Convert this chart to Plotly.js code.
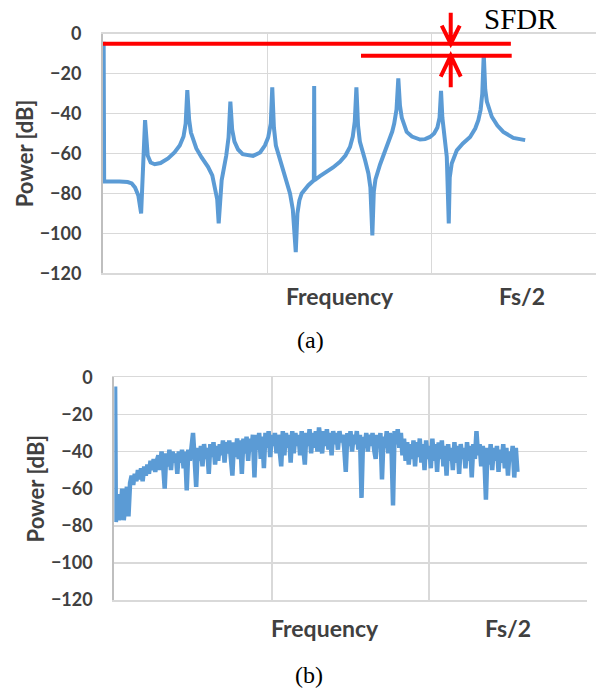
<!DOCTYPE html>
<html>
<head>
<meta charset="utf-8">
<script src="https://cdn.plot.ly/plotly-3.0.1.min.js"></script>
<style>html,body{margin:0;padding:0;background:#fff;}#chart{width:598px;height:688px;}</style>
</head>
<body>
<div id="chart"></div>
<script>
// ---- (a) spectrum with harmonic spurs ----
const topFreq = [0.4,0.7,10,15,17.5,19.5,21.5,23.2,25.6,27.2,29,31.5,35,39.6,43.5,46.7,49,50.3,51.3,52.4,53.5,56.8,60,63.9,66.5,68.3,69.5,70.4,71.2,72.2,75,76.4,77.5,78.6,80,82.2,85,88.3,91.3,95.6,98.5,100.5,102.1,103,104,105.2,108.8,111.5,113.8,115.5,117.3,118.3,119.5,120.9,123,125,128.3,128.5,128.7,132,136.2,140,144.2,147.5,150.3,152,153.2,154.2,155.2,156.3,159.5,161.5,162.7,163.9,164.8,165.8,168.6,171,173.6,176,177.2,178.6,179.7,180.7,181.8,184.8,188,192.9,196,199,201.5,203.5,204.8,205.7,206.5,207.5,209.2,210.4,211,212.2,215.3,219,223.4,226.5,228.4,229.8,230.8,231.7,232.6,233.6,236.6,240,243.6,249.7,256.9];
const topPower = [-4,-74,-74,-74.3,-75,-77,-81,-90,-43.3,-61,-64.5,-65.4,-64.8,-62.5,-59.5,-56,-51.5,-45,-28.2,-43,-49.5,-57.5,-62,-66.7,-71,-77,-83,-95,-83,-73.4,-61,-52,-34,-48,-54,-58,-60.3,-61,-61.2,-59.5,-56,-52,-45,-26.9,-47,-56,-66.5,-73,-80,-88,-109.4,-90,-83.5,-80,-77.5,-75.9,-73.4,-26.2,-73.4,-71.3,-69.2,-67,-64.2,-61,-56.7,-51.5,-44,-26.9,-46,-54,-63.4,-70,-77,-101,-79,-73,-65.5,-60.5,-55,-49,-45,-38,-22.4,-36,-42,-49.2,-51.5,-53,-52.8,-51.7,-50,-47,-42,-28.6,-42,-50,-61.7,-95,-72,-65,-58.4,-55,-51.7,-47.5,-43.3,-38,-30,-10.2,-28,-34,-41.6,-46,-49.2,-52.2,-53.3];

// SFDR markers (a)
const carrierLevel = -5;     // dB
const spurLevel = -11;       // dB
const carrierLineEnd = 248.2;
const spurLineStart = 157;
const spurLineEnd = 248.7;
const sfdrArrowFreq = 211.6;

// ---- (b) noise-like spectrum (one value per frequency bin) ----
const botPower = [
-5,-78,-63,-77,-72,-60,-77,-66,-59,-75,
-57,-53,-58,-52,-56,-50,-55,-49,-56,-48,
-53,-47,-52,-45,-50,-44,-51,-45,-42,-50,
-40,-47,-60,-41,-48,-39,-50,-40,-46,-41,
-52,-40,-46,-39,-49,-40,-61,-39,-45,-38,
-30,-44,-59,-38,-45,-37,-48,-36,-44,-38,
-52,-36,-43,-35,-47,-37,-45,-36,-42,-34,
-46,-35,-41,-34,-44,-53,-35,-43,-33,-44,
-34,-52,-33,-41,-32,-45,-33,-40,-31,-54,
-31,-39,-30,-44,-32,-49,-30,-38,-29,-43,
-31,-37,-30,-41,-31,-38,-48,-29,-42,-30,
-38,-31,-46,-29,-41,-30,-37,-31,-42,-29,
-38,-47,-30,-37,-28,-41,-30,-38,-29,-40,
-27,-36,-41,-29,-37,-28,-39,-30,-42,-29,
-36,-30,-39,-29,-35,-31,-38,-51,-30,-37,
-29,-40,-31,-36,-29,-39,-31,-65,-32,-38,
-30,-40,-31,-37,-30,-39,-44,-31,-38,-30,
-55,-32,-38,-29,-41,-30,-37,-69,-29,-36,
-28,-38,-30,-42,-33,-45,-35,-47,-36,-44,
-34,-48,-35,-43,-33,-46,-36,-50,-34,-44,
-37,-49,-33,-45,-36,-51,-35,-44,-34,-48,
-37,-53,-36,-45,-38,-50,-35,-46,-37,-52,
-36,-44,-38,-49,-35,-45,-37,-54,-36,-44,
-29,-42,-36,-48,-37,-43,-66,-38,-47,-36,
-50,-38,-45,-37,-51,-39,-46,-36,-49,-38,
-53,-40,-45,-37,-54,-38,-51];
const botFreq = botPower.map((_, i) => i === 0 ? 0.5 : i);

const axisLabels = ['Frequency', 'Fs/2'];
const topLabelFreq = [144, 255];
const botLabelFreq = [134, 250];
const captions = ['(a)', '(b)'];

const blue = '#5B9BD5';
const red = '#FF0000';
const grid = '#D9D9D9';
const txt = '#404040';
const boldFont = (s) => ({family: 'Lato, "Open Sans", sans-serif', size: s, color: txt, weight: 'bold'});
const serif = (s) => ({family: '"Liberation Serif", "DejaVu Serif", serif', size: s, color: '#000'});

const traces = [
  {x: topFreq, y: topPower, type: 'scatter', mode: 'lines', xaxis: 'x', yaxis: 'y',
   line: {color: blue, width: 4}, hoverinfo: 'skip'},
  {x: botFreq, y: botPower, type: 'scatter', mode: 'lines', xaxis: 'x2', yaxis: 'y2',
   line: {color: blue, width: 4.5}, hoverinfo: 'skip'}
];

function xAxis(domain, anchor) {
  return {domain: domain, anchor: anchor, range: [0, 300], dtick: 100, tick0: 0,
    showgrid: true, gridcolor: grid, gridwidth: 1.5, zeroline: false,
    showticklabels: false, ticks: '', showline: true, linecolor: grid, linewidth: 1.5, mirror: true,
    fixedrange: true};
}
function yAxis(domain, anchor) {
  return {domain: domain, anchor: anchor, range: [-120, 0], dtick: 20, tick0: 0,
    showgrid: true, gridcolor: grid, gridwidth: 1.5, zeroline: false,
    showline: true, linecolor: '#BFBFBF', linewidth: 2, mirror: false,
    ticks: '', ticklabelstandoff: 16, tickfont: boldFont(18),
    title: {text: 'Power [dB]', font: boldFont(22), standoff: 0},
    fixedrange: true};
}

const yDom = (v) => (v + 120) / 120;

const shapes = [
  {type: 'line', xref: 'x', yref: 'y', x0: 0, x1: carrierLineEnd, y0: carrierLevel, y1: carrierLevel,
   line: {color: red, width: 4}},
  {type: 'line', xref: 'x', yref: 'y', x0: spurLineStart, x1: spurLineEnd, y0: spurLevel, y1: spurLevel,
   line: {color: red, width: 4}},
  {type: 'path', xref: 'x domain', yref: 'y domain', xsizemode: 'pixel', ysizemode: 'pixel',
   xanchor: sfdrArrowFreq / 300, yanchor: yDom(carrierLevel),
   path: 'M0,0 L0,31 M-9,18 L0,0 L9,18', line: {color: red, width: 4}},
  {type: 'path', xref: 'x domain', yref: 'y domain', xsizemode: 'pixel', ysizemode: 'pixel',
   xanchor: sfdrArrowFreq / 300, yanchor: yDom(spurLevel),
   path: 'M0,0 L0,-31.5 M-10,-21 L0,0 L10,-21', line: {color: red, width: 4}}
];

const annotations = [];
axisLabels.forEach((t, i) => {
  annotations.push({text: t, xref: 'x', yref: 'y domain', x: topLabelFreq[i], y: -0.096,
    showarrow: false, font: boldFont(23), xanchor: 'center', yanchor: 'middle'});
  annotations.push({text: t, xref: 'x2', yref: 'y2 domain', x: botLabelFreq[i], y: -0.126,
    showarrow: false, font: boldFont(23), xanchor: 'center', yanchor: 'middle'});
});
annotations.push({text: 'SFDR', xref: 'paper', yref: 'paper', x: 0.8696, y: 0.9724,
  showarrow: false, font: serif(29), xanchor: 'center', yanchor: 'middle'});
annotations.push({text: captions[0], xref: 'paper', yref: 'paper', x: 0.5184, y: 0.5058,
  showarrow: false, font: serif(24), xanchor: 'center', yanchor: 'middle'});
annotations.push({text: captions[1], xref: 'paper', yref: 'paper', x: 0.5167, y: 0.0189,
  showarrow: false, font: serif(24), xanchor: 'center', yanchor: 'middle'});

const layout = {
  width: 598, height: 688,
  margin: {l: 0, r: 0, t: 0, b: 0},
  paper_bgcolor: '#fff', plot_bgcolor: '#fff',
  showlegend: false,
  xaxis: xAxis([103/598, 596/598], 'y'),
  yaxis: yAxis([1 - 273.3/688, 1 - 33.7/688], 'x'),
  xaxis2: xAxis([114.3/598, 586.7/598], 'y2'),
  yaxis2: yAxis([1 - 600/688, 1 - 377.3/688], 'x2'),
  shapes: shapes,
  annotations: annotations
};

Plotly.newPlot('chart', traces, layout, {staticPlot: true, displayModeBar: false});
</script>
</body>
</html>
